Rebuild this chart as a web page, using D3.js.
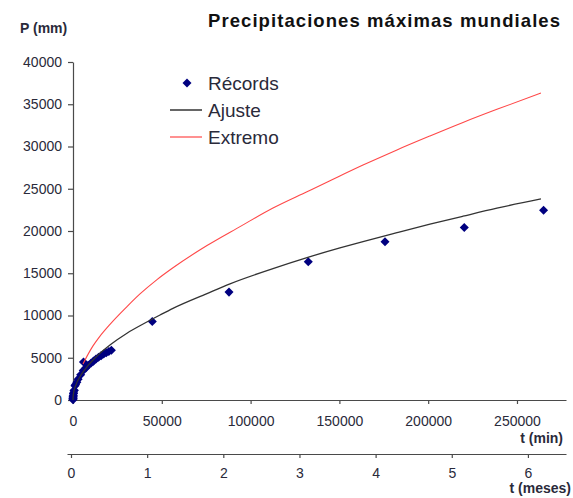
<!DOCTYPE html>
<html>
<head>
<meta charset="utf-8">
<script src="https://cdn.jsdelivr.net/npm/d3@7"></script>
<style>
  body { margin: 0; background: #fff; }
  svg { display: block; font-family: "Liberation Sans", Arial, sans-serif; }
</style>
</head>
<body>
<svg id="chart" width="573" height="498"></svg>
<script>
// ---- data (t in minutes, P in mm) ----
const recordsT = [1, 8, 15, 20, 42, 60, 130, 165, 270, 360, 540, 720, 1110, 1440, 2160, 2880, 4320, 5760, 5900, 7200, 8640, 10080, 11520, 12960, 14400, 15840, 17280, 18720, 20160, 21600, 44640, 87840, 132480, 175680, 220320, 264960];
const recordsP = [38, 126, 198, 206, 305, 401, 483, 559, 782, 840, 1087, 1144, 1689, 1825, 2100, 2470, 3000, 3500, 4500, 3800, 4100, 4350, 4600, 4850, 5050, 5250, 5450, 5600, 5750, 5900, 9300, 12767, 16369, 18738, 20412, 22454];

const ajusteT = [0, 60, 360, 1440, 4320, 7200, 14400, 20800, 30400, 40000, 49000, 56300, 75450, 88400, 112600, 131760, 150300, 163300, 182400, 201000, 219600, 238700, 263500];
const ajusteP = [0, 330, 850, 1670, 2900, 3750, 5380, 6500, 7900, 9050, 10060, 10850, 12600, 13750, 15550, 16850, 18000, 18750, 19800, 20800, 21750, 22700, 23790];

const extremoT = [5630, 8450, 11260, 15000, 20830, 30400, 37720, 47300, 56300, 75450, 94030, 112600, 131760, 144700, 163300, 182400, 201000, 219600, 238700, 263500];
const extremoP = [4250, 5400, 6400, 7500, 8950, 11050, 12550, 14250, 15650, 18280, 20520, 22720, 24650, 25950, 27800, 29600, 31250, 32850, 34400, 36330];

const minTicks = [0, 50000, 100000, 150000, 200000, 250000];
const yTicks = [0, 5000, 10000, 15000, 20000, 25000, 30000, 35000, 40000];
const monthTicks = [0, 1, 2, 3, 4, 5, 6];

const titleText = "Precipitaciones máximas mundiales";
const yLabel = "P (mm)";
const xLabel = "t (min)";
const x2Label = "t (meses)";
const legendNames = ["Récords", "Ajuste", "Extremo"];

// ---- scales ----
const svg = d3.select("#chart");
const x = d3.scaleLinear().domain([0, 277600]).range([73, 566]);
const y = d3.scaleLinear().domain([0, 40000]).range([400, 62]);
const xm = d3.scaleLinear().domain([-0.0525, 6.5]).range([67, 566]);

const axisColor = "#4a4a4a";
const textColor = "#2a2a3a";

function styleAxis(g) {
  g.selectAll(".domain").attr("stroke", axisColor).attr("stroke-width", 1.2);
  g.selectAll(".tick line").attr("stroke", axisColor).attr("stroke-width", 1.2);
  g.selectAll(".tick text").attr("fill", textColor).style("font-size", "14px")
    .style("font-family", "'Liberation Sans', Arial, sans-serif");
}

// y axis
svg.append("g").attr("transform", "translate(73,0)")
  .call(d3.axisLeft(y).tickValues(yTicks).tickSize(5).tickSizeOuter(0).tickPadding(6).tickFormat(d3.format("d")))
  .call(styleAxis);

// x axis (minutes)
svg.append("g").attr("transform", "translate(0,400)")
  .call(d3.axisBottom(x).tickValues(minTicks).tickSize(4).tickSizeOuter(0).tickPadding(12).tickFormat(d3.format("d")))
  .call(styleAxis);

// x axis (months)
svg.append("g").attr("transform", "translate(0,454)")
  .call(d3.axisBottom(xm).tickValues(monthTicks).tickSize(4).tickSizeOuter(0).tickPadding(10).tickFormat(d3.format("d")))
  .call(styleAxis);

// ---- marks ----
const diamond = d3.symbol().type(d3.symbolDiamond2).size(52);

svg.append("g").selectAll("path")
  .data(recordsT.map((t, i) => [t, recordsP[i]]))
  .join("path")
  .attr("d", diamond)
  .attr("transform", d => `translate(${x(d[0])},${y(d[1])})`)
  .attr("fill", "#000080");

const line = d3.line().x(d => x(d[0])).y(d => y(d[1])).curve(d3.curveMonotoneX);

svg.append("path")
  .datum(ajusteT.map((t, i) => [t, ajusteP[i]]))
  .attr("d", line).attr("fill", "none").attr("stroke", "#333").attr("stroke-width", 1.3);

svg.append("path")
  .datum(extremoT.map((t, i) => [t, extremoP[i]]))
  .attr("d", line).attr("fill", "none").attr("stroke", "#ff4848").attr("stroke-width", 1.1);

// ---- texts ----
svg.append("text").attr("x", 208).attr("y", 27)
  .attr("textLength", 352).attr("lengthAdjust", "spacing")
  .style("font-size", "18.5px").style("font-weight", "bold").attr("fill", "#111")
  .text(titleText);

svg.append("text").attr("x", 20).attr("y", 33)
  .style("font-size", "14px").style("font-weight", "bold").attr("fill", textColor)
  .text(yLabel);

svg.append("text").attr("x", 563).attr("y", 443).attr("text-anchor", "end")
  .style("font-size", "14px").style("font-weight", "bold").attr("fill", textColor)
  .text(xLabel);

svg.append("text").attr("x", 571).attr("y", 493).attr("text-anchor", "end")
  .style("font-size", "14px").style("font-weight", "bold").attr("fill", textColor)
  .text(x2Label);

// ---- legend ----
const lg = svg.append("g");
lg.append("path").attr("d", diamond).attr("transform", "translate(187,83)").attr("fill", "#000080");
lg.append("line").attr("x1", 170).attr("x2", 202).attr("y1", 110).attr("y2", 110).attr("stroke", "#333").attr("stroke-width", 1.5);
lg.append("line").attr("x1", 170).attr("x2", 202).attr("y1", 137).attr("y2", 137).attr("stroke", "#ff4848").attr("stroke-width", 1.2);
legendNames.forEach((n, i) => {
  lg.append("text").attr("x", 208).attr("y", 90 + i * 27)
    .style("font-size", "19px").attr("fill", textColor).text(n);
});
</script>
</body>
</html>
